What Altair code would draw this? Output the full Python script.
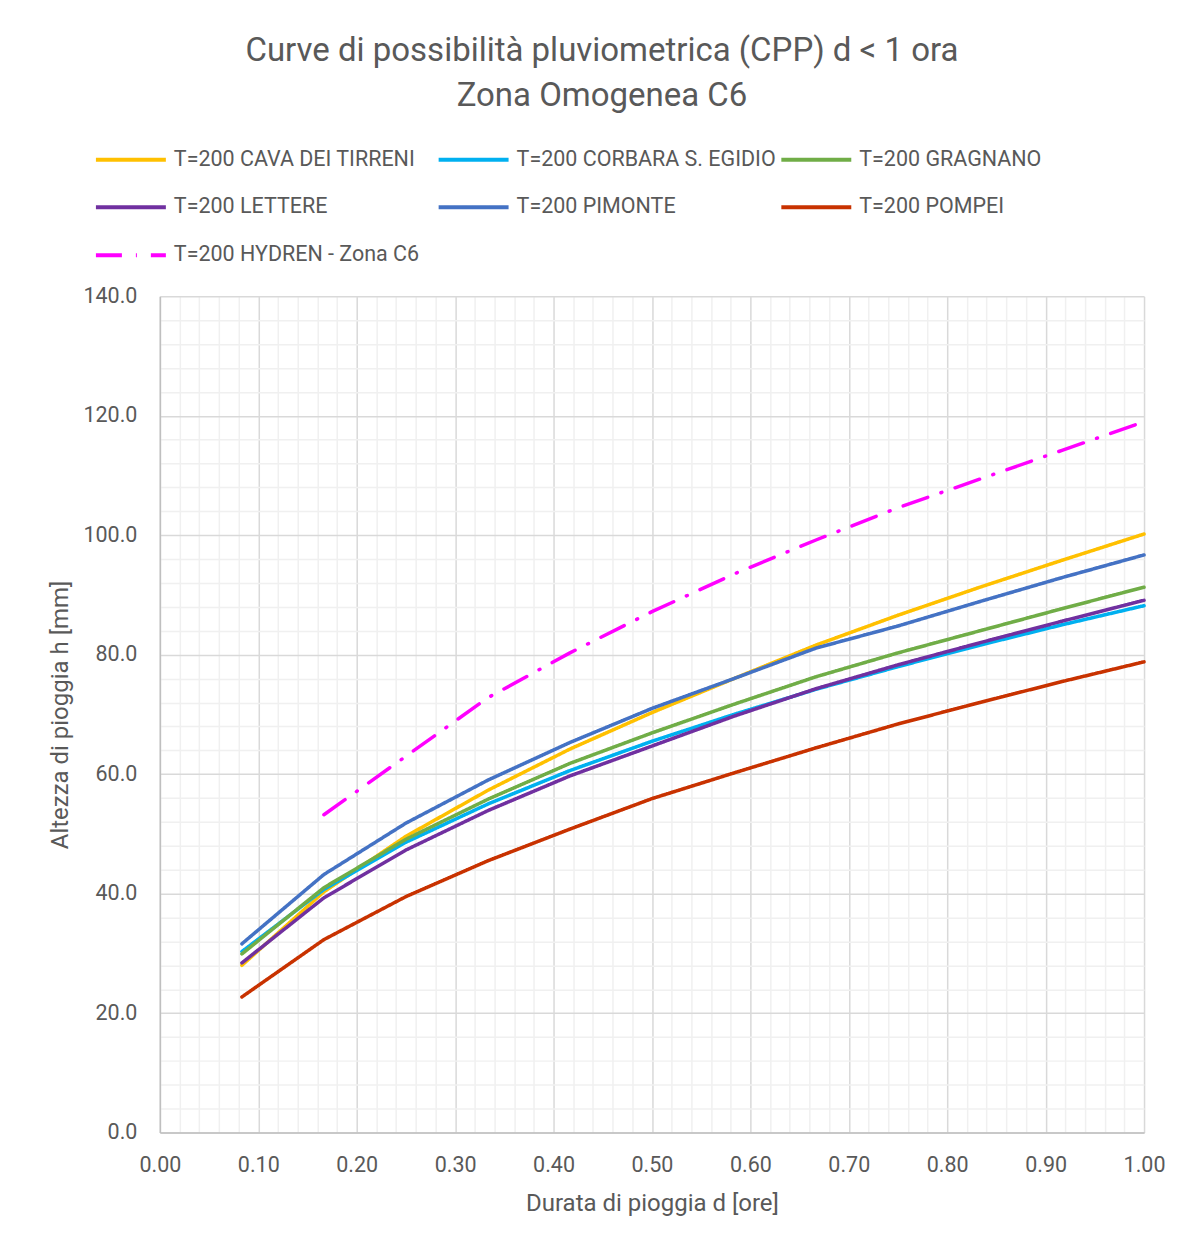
import altair as alt
import pandas as pd

minutes = [5, 10, 15, 20, 25, 30, 35, 40, 45, 50, 55, 60]
series_names = [
    "T=200 CAVA DEI TIRRENI",
    "T=200 CORBARA S. EGIDIO",
    "T=200 GRAGNANO",
    "T=200 LETTERE",
    "T=200 PIMONTE",
    "T=200 POMPEI",
    "T=200 HYDREN - Zona C6",
]
cava = [28.0, 40.3, 49.6, 57.3, 64.2, 70.3, 76.0, 81.6, 86.6, 91.3, 95.8, 100.2]
corbara = [30.3, 40.7, 48.6, 55.0, 60.6, 65.5, 70.0, 74.2, 78.0, 81.6, 85.0, 88.2]
gragnano = [29.9, 41.0, 49.1, 55.8, 61.8, 66.9, 71.7, 76.3, 80.3, 84.0, 87.7, 91.3]
lettere = [28.4, 39.3, 47.3, 53.9, 59.7, 64.7, 69.7, 74.3, 78.3, 82.0, 85.6, 89.1]
pimonte = [31.6, 43.2, 51.8, 59.0, 65.3, 71.0, 76.0, 81.1, 84.8, 88.9, 92.9, 96.7]
pompei = [22.7, 32.3, 39.5, 45.5, 50.8, 55.9, 60.2, 64.4, 68.4, 72.0, 75.5, 78.8]
hydren = [None, 53.2, 63.0, 72.8, 80.3, 87.2, 93.5, 99.2, 104.6, 109.4, 114.2, 119.0]

colors = ["#FFC000", "#00B0F0", "#70AD47", "#7030A0", "#4472C4", "#C83200", "#FF00FF"]
dashes = [[1, 0]] * 6 + [[26, 14, 1, 14]]

x_ticks = [round(i * 0.02, 2) for i in range(51)]
y_ticks = [i * 4 for i in range(36)]

rows = []
for name, vals in zip(series_names, [cava, corbara, gragnano, lettere, pimonte, pompei, hydren]):
    for m, v in zip(minutes, vals):
        if v is not None:
            rows.append({"d": m / 60.0, "h": v, "serie": name})
df = pd.DataFrame(rows)

FONT = "Roboto"
TXT = "#595959"

legend = alt.Legend(
    title=None,
    orient="none",
    legendX=-66,
    legendY=-174,
    columns=3,
    direction="horizontal",
    symbolType="stroke",
    symbolSize=4900,
    symbolStrokeWidth=4,
    labelFontSize=21.5,
    labelFont=FONT,
    labelColor=TXT,
    labelOffset=6,
    labelLimit=400,
    rowPadding=-30,
    columnPadding=-3,
    gridAlign="all",
    padding=0,
)

chart = alt.Chart(df).mark_line(strokeWidth=3.5, strokeCap="round", strokeJoin="round").encode(
    x=alt.X(
        "d:Q",
        scale=alt.Scale(domain=[0, 1], nice=False),
        axis=alt.Axis(
            values=x_ticks,
            labelExpr="abs(datum.value*10 - round(datum.value*10)) < 0.000001 ? format(datum.value, '.2f') : ''",
            title="Durata di pioggia d [ore]",
            gridColor={"condition": {"test": "abs(datum.value*10 - round(datum.value*10)) < 0.000001", "value": "#d9d9d9"}, "value": "#f0f0f0"},
            gridWidth=1.5,
            ticks=False,
            labelPadding=22,
            titlePadding=16,
            domainColor="#bfbfbf",
            domainWidth=1.5,
            labelFlush=False,
            labelOverlap=False,
        ),
    ),
    y=alt.Y(
        "h:Q",
        scale=alt.Scale(domain=[0, 140], nice=False),
        axis=alt.Axis(
            values=y_ticks,
            labelExpr="datum.value % 20 == 0 ? format(datum.value, '.1f') : ''",
            title="Altezza di pioggia h [mm]",
            gridColor={"condition": {"test": "datum.value % 20 == 0", "value": "#d9d9d9"}, "value": "#f0f0f0"},
            gridWidth=1.5,
            ticks=False,
            labelPadding=23,
            titlePadding=10,
            domainColor="#bfbfbf",
            domainWidth=1.5,
            labelFlush=False,
            labelOverlap=False,
        ),
    ),
    color=alt.Color("serie:N", scale=alt.Scale(domain=series_names, range=colors), legend=legend),
    strokeDash=alt.StrokeDash("serie:N", scale=alt.Scale(domain=series_names, range=dashes), legend=legend),
    order=alt.Order("d:Q"),
).properties(
    width=985,
    height=837,
    autosize=alt.AutoSizeParams(type="none"),
    padding={"left": 152, "top": 288, "right": 40, "bottom": 100},
    title=alt.TitleParams(
        text=["Curve di possibilità pluviometrica (CPP) d < 1 ora", "Zona Omogenea C6"],
        fontSize=33,
        font=FONT,
        fontWeight="normal",
        color=TXT,
        anchor="middle",
        dx=-50,
        dy=-5,
        lineHeight=45,
    ),
).configure_axis(
    labelFont=FONT,
    labelFontSize=21.5,
    labelColor=TXT,
    titleFont=FONT,
    titleFontSize=24,
    titleColor=TXT,
    titleFontWeight="normal",
).configure_view(stroke=None)

chart.save("out.html", embed_options={"renderer": "svg", "actions": False})
